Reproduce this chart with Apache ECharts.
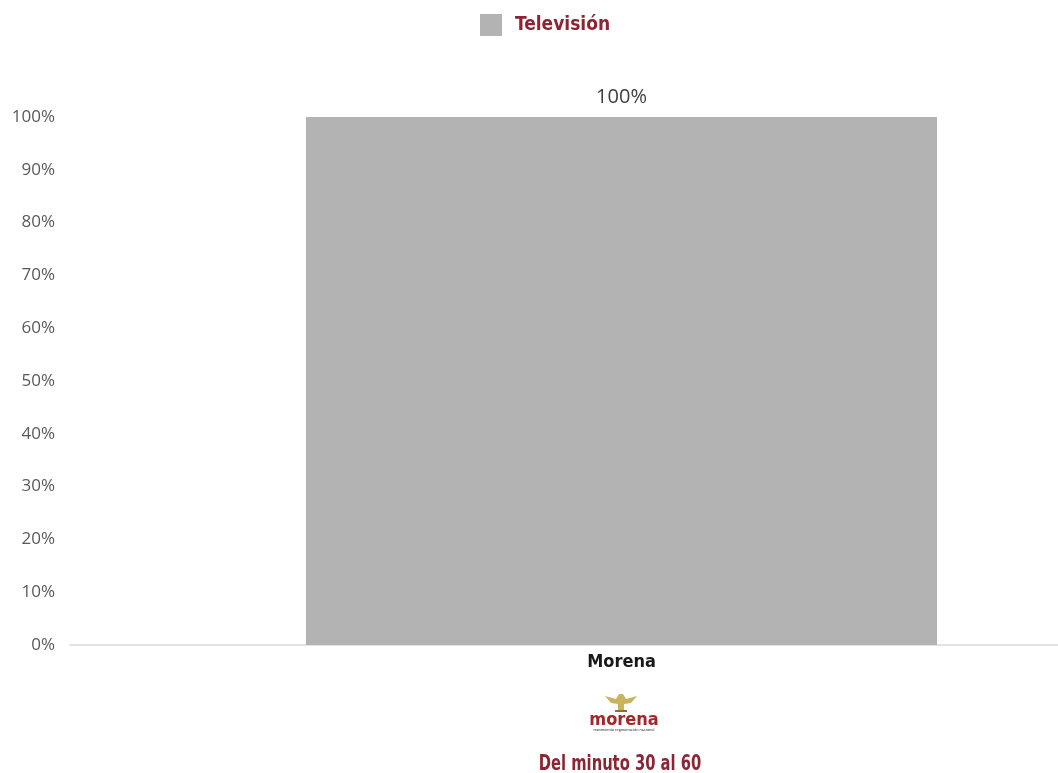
<!DOCTYPE html>
<html>
<head>
<meta charset="utf-8">
<script src="https://cdn.jsdelivr.net/npm/echarts@6/dist/echarts.min.js"></script>
<style>
html,body{margin:0;padding:0;background:#fff;overflow:hidden;width:1058px;height:773px;}
#c{width:1173px;height:773px;}
</style>
</head>
<body>
<div id="c"></div>
<script>
const categories = ['Morena'];
const seriesName = 'Televisión';
const values = [100];
const yTicks = [0, 10, 20, 30, 40, 50, 60, 70, 80, 90, 100];
const footerText = 'Del minuto 30 al 60';

const condensed = '"Liberation Sans Narrow", "DejaVu Sans Condensed", "Roboto", sans-serif';
const red = '#8c2434';

const chart = echarts.init(document.getElementById('c'));
chart.setOption({
  animation: false,
  backgroundColor: '#fff',
  legend: {
    top: 9,
    left: 475,
    icon: 'rect',
    itemWidth: 22,
    itemHeight: 22,
    itemGap: 16,
    data: [seriesName],
    textStyle: { color: red, fontSize: 19, fontWeight: 'bold', fontFamily: condensed, padding: [0, 0, 0, 8] }
  },
  grid: { left: 70, right: 0, top: 117, bottom: 128, containLabel: false },
  xAxis: {
    type: 'category',
    data: categories,
    axisLine: { show: true, lineStyle: { color: '#d9d9d9', width: 1.5 } },
    axisTick: { show: false },
    axisLabel: { color: '#1a1a1a', fontSize: 18, fontWeight: 'bold', fontFamily: condensed, margin: 8 }
  },
  yAxis: {
    type: 'value',
    min: 0,
    max: 100,
    interval: 10,
    axisLine: { show: false },
    axisTick: { show: false },
    splitLine: { show: false },
    axisLabel: {
      color: '#595959', fontSize: 17, fontFamily: '"Open Sans", sans-serif', margin: 15,
      formatter: v => yTicks.includes(v) ? v + '%' : ''
    }
  },
  series: [{
    name: seriesName,
    type: 'bar',
    data: values,
    barWidth: 631,
    itemStyle: { color: '#b3b3b3' },
    label: {
      show: true, position: 'top', distance: 10,
      formatter: p => p.value + '%',
      color: '#404040', fontSize: 20, fontFamily: '"Open Sans", sans-serif'
    }
  }],
  graphic: [
    {
      type: 'group', x: 605, y: 694,
      children: [
        { type: 'polygon', shape: { points: [[0,2],[11,5],[14,0],[18,0],[21,5],[32,2],[26,9],[19,10],[19,17],[13,17],[13,10],[6,9]] }, style: { fill: '#c8b45a' } },
        { type: 'rect', shape: { x: 10, y: 16, width: 12, height: 2 }, style: { fill: '#8a6d3b' } }
      ]
    },
    {
      type: 'text', x: 624, y: 711,
      style: { text: 'morena', fill: '#a3262a', fontSize: 18, fontWeight: 'bold', fontFamily: '"DejaVu Sans", sans-serif', align: 'center', verticalAlign: 'top' },
      scaleX: 0.9, originX: 0
    },
    {
      type: 'text', x: 624, y: 728,
      style: { text: 'movimiento regeneración nacional', fill: '#333', fontSize: 4, fontFamily: 'sans-serif', align: 'center', verticalAlign: 'top' }
    },
    {
      type: 'text', x: 620, y: 765,
      style: { text: footerText, fill: red, fontSize: 21, fontWeight: 'bold', fontFamily: condensed, align: 'center', verticalAlign: 'middle' },
      scaleX: 0.78, originX: 0
    }
  ]
});
</script>
</body>
</html>
